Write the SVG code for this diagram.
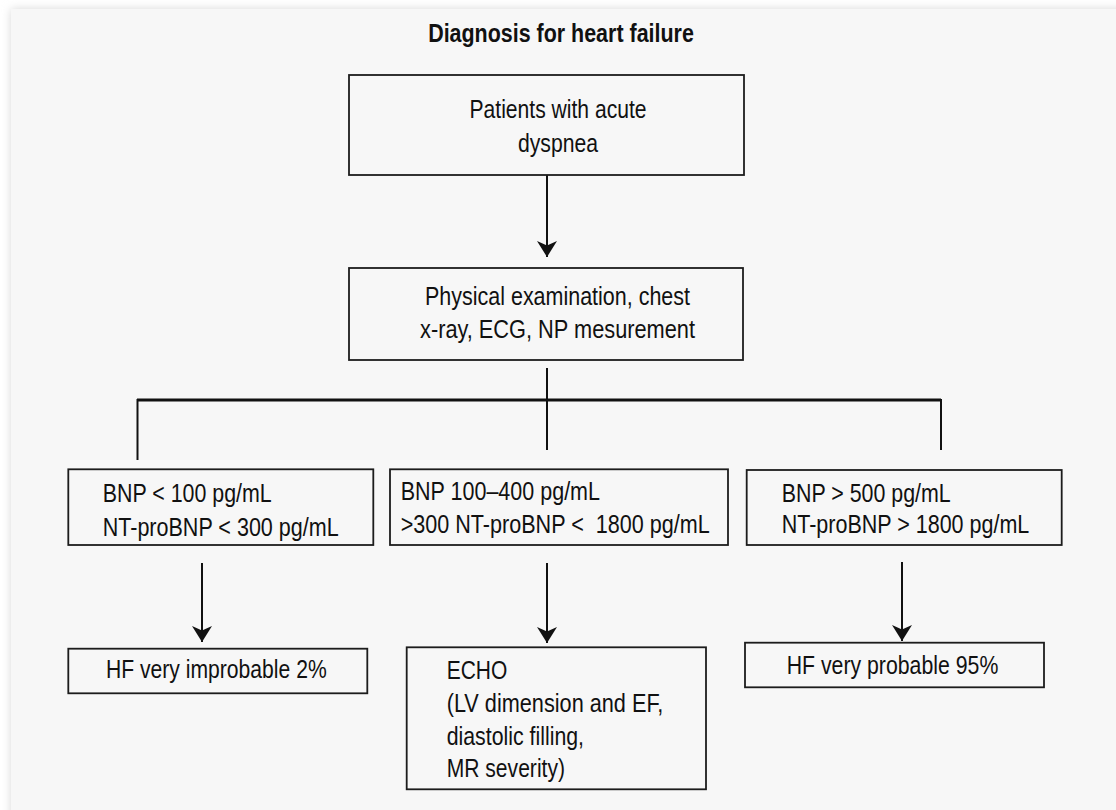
<svg xmlns="http://www.w3.org/2000/svg" width="1116" height="810" viewBox="0 0 1116 810">
<defs>
<filter id="sh" x="-5%" y="-5%" width="110%" height="110%"><feGaussianBlur stdDeviation="5"/></filter>
<marker id="ah" viewBox="0 -11 16 22" refX="16" refY="0" markerWidth="16" markerHeight="22" markerUnits="userSpaceOnUse" orient="auto">
<path d="M16,0 L0,-10 L4.5,0 L0,10 Z" fill="#111"/>
</marker>
<style>
.box{fill:#f7f7f7;stroke:#1c1c1c;stroke-width:1.8}
.t{font-family:"Liberation Sans",Arial,sans-serif;font-size:25px;fill:#111}
.c{text-anchor:middle}
.ln{stroke:#111;stroke-width:2;fill:none}
.arr{stroke:#111;stroke-width:2;fill:none;marker-end:url(#ah)}
</style>
</defs>
<rect width="1116" height="810" fill="#ffffff"/>
<rect x="11" y="9" width="1120" height="820" fill="#d8d8d8" filter="url(#sh)"/>
<rect x="11" y="9" width="1110" height="810" fill="#f7f7f7"/>
<text id="title" class="t c" x="561" y="41.5" font-weight="bold" textLength="265.7" lengthAdjust="spacingAndGlyphs">Diagnosis for heart failure</text>
<g id="connectors">
<line class="arr" x1="547" y1="175" x2="547" y2="257"/>
<line class="ln" x1="547" y1="368" x2="547" y2="450"/>
<line x1="137" y1="400" x2="941" y2="400" stroke="#111" stroke-width="3"/>
<line class="ln" x1="137.5" y1="399" x2="137.5" y2="460"/>
<line class="ln" x1="941" y1="399" x2="941" y2="450"/>
<line class="arr" x1="202" y1="563" x2="202" y2="642"/>
<line class="arr" x1="547" y1="563" x2="547" y2="643"/>
<line class="arr" x1="902" y1="562" x2="902" y2="641"/>
</g>
<g id="n1">
<rect class="box" x="349" y="75" width="395" height="100"/>
<text class="t c" x="558" y="118.3" textLength="177" lengthAdjust="spacingAndGlyphs">Patients with acute</text>
<text class="t c" x="558" y="151.7" textLength="80" lengthAdjust="spacingAndGlyphs">dyspnea</text>
</g>
<g id="n2">
<rect class="box" x="349" y="268" width="394" height="92"/>
<text class="t c" x="557.5" y="305" textLength="265" lengthAdjust="spacingAndGlyphs">Physical examination, chest</text>
<text class="t c" x="557.5" y="338" textLength="275" lengthAdjust="spacingAndGlyphs">x-ray, ECG, NP mesurement</text>
</g>
<g id="n3">
<rect class="box" x="68.3" y="469.3" width="305" height="75.7"/>
<text class="t" x="102.7" y="501.7" textLength="169" lengthAdjust="spacingAndGlyphs">BNP &lt; 100 pg/mL</text>
<text class="t" x="102.7" y="536" textLength="236" lengthAdjust="spacingAndGlyphs">NT-proBNP &lt; 300 pg/mL</text>
</g>
<g id="n4">
<rect class="box" x="390" y="469.3" width="338" height="75.7"/>
<text class="t" x="400.7" y="500" textLength="199.3" lengthAdjust="spacingAndGlyphs">BNP 100–400 pg/mL</text>
<text class="t" x="400.7" y="533.3" xml:space="preserve" textLength="309" lengthAdjust="spacingAndGlyphs">&gt;300 NT-proBNP &lt;  1800 pg/mL</text>
</g>
<g id="n5">
<rect class="box" x="746.7" y="470" width="315" height="75"/>
<text class="t" x="781.7" y="501.7" textLength="169" lengthAdjust="spacingAndGlyphs">BNP &gt; 500 pg/mL</text>
<text class="t" x="781.7" y="533.3" textLength="247.6" lengthAdjust="spacingAndGlyphs">NT-proBNP &gt; 1800 pg/mL</text>
</g>
<g id="n6">
<rect class="box" x="68.3" y="648.7" width="299" height="44.6"/>
<text class="t" x="106" y="678.3" textLength="220.7" lengthAdjust="spacingAndGlyphs">HF very improbable 2%</text>
</g>
<g id="n7">
<rect class="box" x="406.7" y="647.3" width="299.3" height="142"/>
<text class="t" x="446.7" y="679.3" textLength="60.6" lengthAdjust="spacingAndGlyphs">ECHO</text>
<text class="t" x="446.7" y="711.7" textLength="216.6" lengthAdjust="spacingAndGlyphs">(LV dimension and EF,</text>
<text class="t" x="446.7" y="745" textLength="137.3" lengthAdjust="spacingAndGlyphs">diastolic filling,</text>
<text class="t" x="446.7" y="777.3" textLength="118.3" lengthAdjust="spacingAndGlyphs">MR severity)</text>
</g>
<g id="n8">
<rect class="box" x="745" y="642.7" width="299" height="44.6"/>
<text class="t" x="786.7" y="674" textLength="211.6" lengthAdjust="spacingAndGlyphs">HF very probable 95%</text>
</g>
</svg>
